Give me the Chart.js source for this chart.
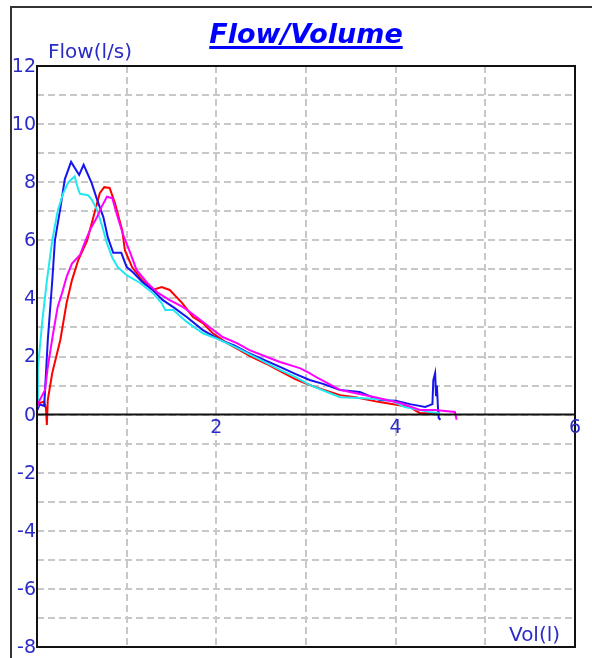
<!DOCTYPE html>
<html>
<head>
<meta charset="utf-8">
<title>Flow/Volume</title>
<script src="https://cdn.jsdelivr.net/npm/chart.js@4.4.1/dist/chart.umd.min.js"></script>
<style>
    html, body { margin: 0; padding: 0; background: #ffffff; }
    #chart { display: block; }
</style>
</head>
<body>
<canvas id="chart" width="592" height="658"></canvas>
<script>
// Tick labels
const xTickLabels = [2, 4, 6];
const yTickLabels = [12, 10, 8, 6, 4, 2, 0, -2, -4, -6, -8];

// Curve data (volume in l, flow in l/s)
const blueVol = [0.00, 0.03, 0.08, 0.09, 0.12, 0.17, 0.20, 0.26, 0.31, 0.38, 0.47, 0.52, 0.61, 0.67, 0.74, 0.79, 0.85, 0.94, 1.00, 1.07, 1.18, 1.29, 1.40, 1.52, 1.67, 1.85, 2.04, 2.20, 2.34, 2.52, 2.71, 2.88, 3.04, 3.20, 3.38, 3.60, 3.82, 4.00, 4.16, 4.33, 4.41, 4.42, 4.44, 4.45, 4.46, 4.47, 4.48, 4.50];
const blueFlow = [0.15, 0.35, 0.30, 0.85, 2.55, 4.60, 6.00, 7.10, 8.10, 8.70, 8.25, 8.60, 7.97, 7.40, 6.80, 6.10, 5.57, 5.57, 5.08, 4.90, 4.55, 4.29, 3.95, 3.70, 3.36, 2.91, 2.57, 2.38, 2.15, 1.90, 1.64, 1.40, 1.19, 1.05, 0.85, 0.78, 0.50, 0.48, 0.36, 0.26, 0.36, 1.19, 1.43, 0.67, 1.00, 0.33, -0.12, -0.18];

const cyanVol = [0.00, 0.01, 0.06, 0.11, 0.17, 0.23, 0.29, 0.35, 0.42, 0.46, 0.48, 0.57, 0.61, 0.67, 0.73, 0.78, 0.84, 0.90, 1.00, 1.15, 1.29, 1.39, 1.43, 1.52, 1.67, 1.85, 2.04, 2.23, 2.45, 2.71, 2.88, 3.04, 3.20, 3.38, 3.60, 3.94, 4.10, 4.38, 4.49];
const cyanFlow = [0.30, 1.60, 3.25, 4.60, 6.00, 7.00, 7.60, 8.00, 8.20, 7.75, 7.60, 7.55, 7.40, 7.05, 6.45, 5.90, 5.40, 5.08, 4.80, 4.53, 4.19, 3.84, 3.60, 3.60, 3.19, 2.80, 2.57, 2.30, 1.95, 1.54, 1.30, 1.02, 0.82, 0.60, 0.57, 0.50, 0.26, 0.09, 0.05];

const redVol = [0.00, 0.03, 0.08, 0.10, 0.11, 0.12, 0.17, 0.26, 0.33, 0.39, 0.46, 0.56, 0.62, 0.70, 0.75, 0.81, 0.87, 0.95, 0.98, 1.06, 1.17, 1.29, 1.39, 1.48, 1.62, 1.74, 1.85, 1.96, 2.12, 2.26, 2.37, 2.55, 2.71, 2.88, 3.04, 3.20, 3.38, 3.55, 3.82, 4.16, 4.27, 4.49];
const redFlow = [0.15, 0.40, 0.45, 0.20, -0.36, 0.50, 1.43, 2.57, 3.84, 4.63, 5.32, 6.00, 6.70, 7.62, 7.83, 7.80, 7.27, 6.35, 5.66, 5.08, 4.63, 4.29, 4.39, 4.29, 3.84, 3.36, 3.15, 2.80, 2.46, 2.22, 2.02, 1.76, 1.50, 1.22, 1.02, 0.85, 0.67, 0.60, 0.43, 0.26, 0.05, 0.05];

const magentaVol = [0.00, 0.03, 0.09, 0.12, 0.18, 0.23, 0.28, 0.33, 0.39, 0.48, 0.53, 0.59, 0.67, 0.72, 0.78, 0.84, 0.89, 0.96, 1.04, 1.11, 1.23, 1.35, 1.48, 1.63, 1.78, 1.93, 2.07, 2.23, 2.37, 2.55, 2.71, 2.93, 3.04, 3.13, 3.38, 3.49, 3.77, 4.05, 4.27, 4.44, 4.66, 4.68];
const magentaFlow = [0.25, 0.50, 0.85, 1.63, 2.80, 3.70, 4.19, 4.74, 5.20, 5.50, 5.90, 6.35, 6.80, 7.15, 7.50, 7.45, 6.90, 6.20, 5.57, 4.98, 4.53, 4.19, 3.94, 3.70, 3.36, 3.00, 2.67, 2.46, 2.22, 2.00, 1.81, 1.60, 1.43, 1.26, 0.85, 0.78, 0.60, 0.40, 0.16, 0.16, 0.09, -0.18];

const labelColor = '#2b2bc8';

function toPoints(vol, flow) {
    return vol.map((v, i) => ({ x: v, y: flow[i] }));
}

function makeLine(vol, flow, color) {
    return {
        data: toPoints(vol, flow),
        borderColor: color,
        backgroundColor: color,
        borderWidth: 2,
        pointRadius: 0,
        showLine: true,
        tension: 0,
        fill: false
    };
}

// Frame, zero axis, tick labels and titles drawn around the plot
const decorations = {
    id: 'decorations',
    beforeDraw(chart) {
        const ctx = chart.ctx;
        ctx.save();
        ctx.fillStyle = '#ffffff';
        ctx.fillRect(0, 0, chart.width, chart.height);
        // outer window frame
        ctx.strokeStyle = '#333333';
        ctx.lineWidth = 2;
        ctx.beginPath();
        ctx.moveTo(11, chart.height);
        ctx.lineTo(11, 7);
        ctx.lineTo(chart.width, 7);
        ctx.stroke();
        ctx.restore();
    },
    afterDraw(chart) {
        const ctx = chart.ctx;
        const area = chart.chartArea;
        const xScale = chart.scales.x;
        const yScale = chart.scales.y;
        ctx.save();

        // plot border
        ctx.strokeStyle = '#111111';
        ctx.lineWidth = 2;
        ctx.strokeRect(area.left, area.top, area.right - area.left, area.bottom - area.top);

        // x axis at zero flow
        const y0 = yScale.getPixelForValue(0);
        ctx.beginPath();
        ctx.moveTo(area.left, y0);
        ctx.lineTo(area.right, y0);
        ctx.stroke();

        ctx.fillStyle = labelColor;
        ctx.font = '19px "DejaVu Sans"';

        ctx.textAlign = 'right';
        ctx.textBaseline = 'middle';
        yTickLabels.forEach(v => {
            ctx.fillText(String(v), area.left - 1, yScale.getPixelForValue(v) + 1);
        });

        ctx.textAlign = 'center';
        ctx.textBaseline = 'top';
        xTickLabels.forEach(v => {
            ctx.fillText(String(v), xScale.getPixelForValue(v), y0 + 4);
        });

        // axis names
        ctx.font = '20px "DejaVu Sans"';
        ctx.textAlign = 'left';
        ctx.textBaseline = 'alphabetic';
        ctx.fillText('Flow(l/s)', 48, 58);
        ctx.fillText('Vol(l)', 509, 641);

        // title
        ctx.fillStyle = '#0000ff';
        ctx.font = 'italic bold 27px "DejaVu Sans"';
        ctx.textAlign = 'center';
        const title = 'Flow/Volume';
        const cx = 306;
        ctx.fillText(title, cx, 43);
        const w = ctx.measureText(title).width;
        ctx.fillRect(cx - w / 2, 46, w, 3);

        ctx.restore();
    }
};

const ctx = document.getElementById('chart').getContext('2d');

new Chart(ctx, {
    type: 'scatter',
    data: {
        datasets: [
            makeLine(magentaVol, magentaFlow, '#ff00ff'),
            makeLine(cyanVol, cyanFlow, '#22e8f0'),
            makeLine(blueVol, blueFlow, '#1515f0'),
            makeLine(redVol, redFlow, '#ff0000')
        ]
    },
    options: {
        responsive: false,
        animation: false,
        layout: {
            padding: { left: 37, top: 66, right: 17, bottom: 11 }
        },
        plugins: {
            legend: { display: false },
            title: { display: false },
            tooltip: { enabled: false }
        },
        scales: {
            x: {
                type: 'linear',
                min: 0,
                max: 6,
                ticks: { display: false, stepSize: 1 },
                grid: { color: '#c8c8c8', lineWidth: 2, drawTicks: false },
                border: { display: false, dash: [7, 4] }
            },
            y: {
                type: 'linear',
                min: -8,
                max: 12,
                ticks: { display: false, stepSize: 1 },
                grid: { color: '#c8c8c8', lineWidth: 2, drawTicks: false },
                border: { display: false, dash: [7, 4] }
            }
        }
    },
    plugins: [decorations]
});
</script>
</body>
</html>
